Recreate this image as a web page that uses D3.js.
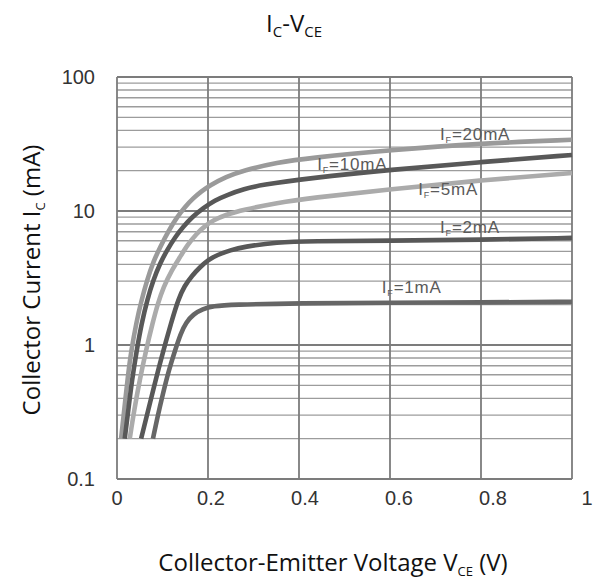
<!DOCTYPE html>
<html>
  <head>
    <meta charset="utf-8">
    <script src="https://d3js.org/d3.v7.min.js"></script>
    <style>
      body { margin: 0; background: #fff; }
      .tick-label { font-family: "Liberation Sans", Arial, sans-serif; font-size: 20px; fill: #333; }
      .axis-title { font-family: "Open Sans", "Noto Sans", sans-serif; font-size: 24px; fill: #111; }
      .curve-label { font-family: "Liberation Sans", Arial, sans-serif; font-size: 17px; fill: #5a5a5a; letter-spacing: 0.8px; }
    </style>
  </head>
  <body>
    <script type="text/javascript">
      "use strict";

      /* data: [V_CE (V), I_C (mA)] */
      var seriesNames = ["20mA", "10mA", "5mA", "2mA", "1mA"];

      var if20 = [[0.009,0.2],[0.016,0.33],[0.023,0.55],[0.031,0.9],[0.043,1.5],[0.053,2.1],[0.066,3.05],
                  [0.08,4.2],[0.095,5.4],[0.113,7.1],[0.132,9.0],[0.15,10.8],[0.167,12.4],[0.185,14.0],
                  [0.204,15.5],[0.24,18.0],[0.277,20.0],[0.352,23.0],[0.424,24.9],[0.6,28.5],[0.8,32],[1.0,34]];
      var if10 = [[0.017,0.2],[0.025,0.33],[0.033,0.55],[0.043,0.9],[0.054,1.45],[0.067,2.2],[0.079,3.0],
                  [0.095,4.1],[0.11,5.1],[0.128,6.4],[0.145,7.6],[0.165,9.0],[0.189,10.5],[0.215,12.0],
                  [0.242,13.2],[0.28,14.6],[0.314,15.6],[0.424,17.6],[0.6,20.3],[0.8,23.2],[1.0,26.2]];
      var if5  = [[0.028,0.2],[0.038,0.33],[0.05,0.55],[0.064,0.92],[0.078,1.45],[0.09,2.05],[0.102,2.7],
                  [0.12,3.6],[0.138,4.5],[0.155,5.6],[0.176,6.85],[0.195,7.8],[0.211,8.5],[0.24,9.4],
                  [0.277,10.2],[0.352,11.5],[0.424,12.5],[0.6,14.5],[0.8,17.0],[1.0,19.2]];
      var if2  = [[0.053,0.2],[0.075,0.4],[0.095,0.75],[0.121,1.55],[0.135,2.2],[0.148,2.75],[0.165,3.3],
                  [0.182,3.8],[0.2,4.3],[0.22,4.7],[0.25,5.1],[0.277,5.4],[0.352,5.85],[0.424,5.95],
                  [0.6,6.0],[0.8,6.1],[1.0,6.3]];
      var if1  = [[0.079,0.2],[0.09,0.3],[0.1,0.42],[0.114,0.65],[0.128,0.92],[0.14,1.22],[0.152,1.48],
                  [0.168,1.7],[0.188,1.86],[0.212,1.95],[0.25,2.0],[0.4,2.05],[0.6,2.07],[0.8,2.08],[1.0,2.1]];

      // where each I_F label sits, in data units [V, mA]
      var labelAt = [[0.71,33.9],[0.44,20.2],[0.662,13.2],[0.71,6.85],[0.582,2.44]];

      var xTicks = [0, 0.2, 0.4, 0.6, 0.8, 1];
      var xTickText = ["0", "0.2", "0.4", "0.6", "0.8", "1"];
      var yTicks = [0.1, 1, 10, 100];
      var yTickText = ["0.1", "1", "10", "100"];

      var allSeries = [if20, if10, if5, if2, if1];
      var colors = ["#9a9a9a", "#585858", "#ababab", "#585858", "#666666"];

      var width = 597, height = 585;

      var svg = d3.select("body").append("svg")
          .attr("width", width)
          .attr("height", height);

      var x = d3.scaleLinear().domain([0, 1]).range([117, 572]);
      // tick numbers in the picture run a bit wider than the grid
      var xText = d3.scaleLinear().domain([0, 1]).range([117, 587]);
      var y = d3.scaleLog().domain([0.1, 100]).range([479, 77]);

      /* grid */
      var minor = [];
      [0.1, 1, 10].forEach(function (d) {
        for (var k = 2; k <= 9; k++) minor.push(d * k);
      });

      svg.append("g").selectAll("line")
          .data(minor)
          .enter().append("line")
            .attr("x1", x(0)).attr("x2", x(1))
            .attr("y1", function (d) { return y(d); })
            .attr("y2", function (d) { return y(d); })
            .attr("stroke", "#9c9c9c")
            .attr("stroke-width", 1.3);

      svg.append("g").selectAll("line")
          .data(yTicks)
          .enter().append("line")
            .attr("x1", x(0)).attr("x2", x(1))
            .attr("y1", function (d) { return y(d); })
            .attr("y2", function (d) { return y(d); })
            .attr("stroke", "#7c7c7c")
            .attr("stroke-width", 1.8);

      svg.append("g").selectAll("line")
          .data(xTicks)
          .enter().append("line")
            .attr("x1", function (d) { return x(d); })
            .attr("x2", function (d) { return x(d); })
            .attr("y1", y(0.1)).attr("y2", y(100))
            .attr("stroke", "#7c7c7c")
            .attr("stroke-width", 1.8);

      /* curves */
      var line = d3.line()
          .x(function (d) { return x(d[0]); })
          .y(function (d) { return y(d[1]); })
          .curve(d3.curveBasis);

      svg.append("g").selectAll("path")
          .data(allSeries)
          .enter().append("path")
            .attr("d", line)
            .attr("fill", "none")
            .attr("stroke", function (d, i) { return colors[i]; })
            .attr("stroke-width", 4.6)
            .attr("stroke-linecap", "butt");

      /* curve labels  I_F=..mA */
      var lab = svg.append("g").selectAll("text")
          .data(seriesNames)
          .enter().append("text")
            .attr("class", "curve-label")
            .attr("x", function (d, i) { return x(labelAt[i][0]); })
            .attr("y", function (d, i) { return y(labelAt[i][1]); });
      lab.append("tspan").text("I");
      lab.append("tspan").attr("font-size", "9px").attr("dy", 3).text("F");
      lab.append("tspan").attr("dy", -3).text(function (d) { return "=" + d; });

      /* tick labels */
      svg.append("g").selectAll("text")
          .data(xTicks)
          .enter().append("text")
            .attr("class", "tick-label")
            .attr("x", function (d) { return xText(d); })
            .attr("y", 505)
            .attr("text-anchor", "middle")
            .text(function (d, i) { return xTickText[i]; });

      svg.append("g").selectAll("text")
          .data(yTicks)
          .enter().append("text")
            .attr("class", "tick-label")
            .attr("x", 95)
            .attr("y", function (d) { return y(d) + 7; })
            .attr("text-anchor", "end")
            .text(function (d, i) { return yTickText[i]; });

      /* titles */
      var title = svg.append("text")
          .attr("class", "axis-title")
          .attr("x", 294).attr("y", 32)
          .attr("text-anchor", "middle");
      title.append("tspan").text("I");
      title.append("tspan").attr("font-size", "15px").attr("dy", 5).text("C");
      title.append("tspan").attr("dy", -5).text("-V");
      title.append("tspan").attr("font-size", "15px").attr("dy", 5).text("CE");

      var xTitle = svg.append("text")
          .attr("class", "axis-title")
          .attr("x", 333).attr("y", 571)
          .attr("text-anchor", "middle");
      xTitle.append("tspan").text("Collector-Emitter Voltage V");
      xTitle.append("tspan").attr("font-size", "13px").attr("dy", 5).text("CE");
      xTitle.append("tspan").attr("dy", -5).text(" (V)");

      var yTitle = svg.append("text")
          .attr("class", "axis-title")
          .attr("transform", "translate(40," + 280 + ") rotate(-90)")
          .attr("text-anchor", "middle");
      yTitle.append("tspan").text("Collector Current I");
      yTitle.append("tspan").attr("font-size", "13px").attr("dy", 5).text("C");
      yTitle.append("tspan").attr("dy", -5).text(" (mA)");
    </script>
  </body>
</html>
